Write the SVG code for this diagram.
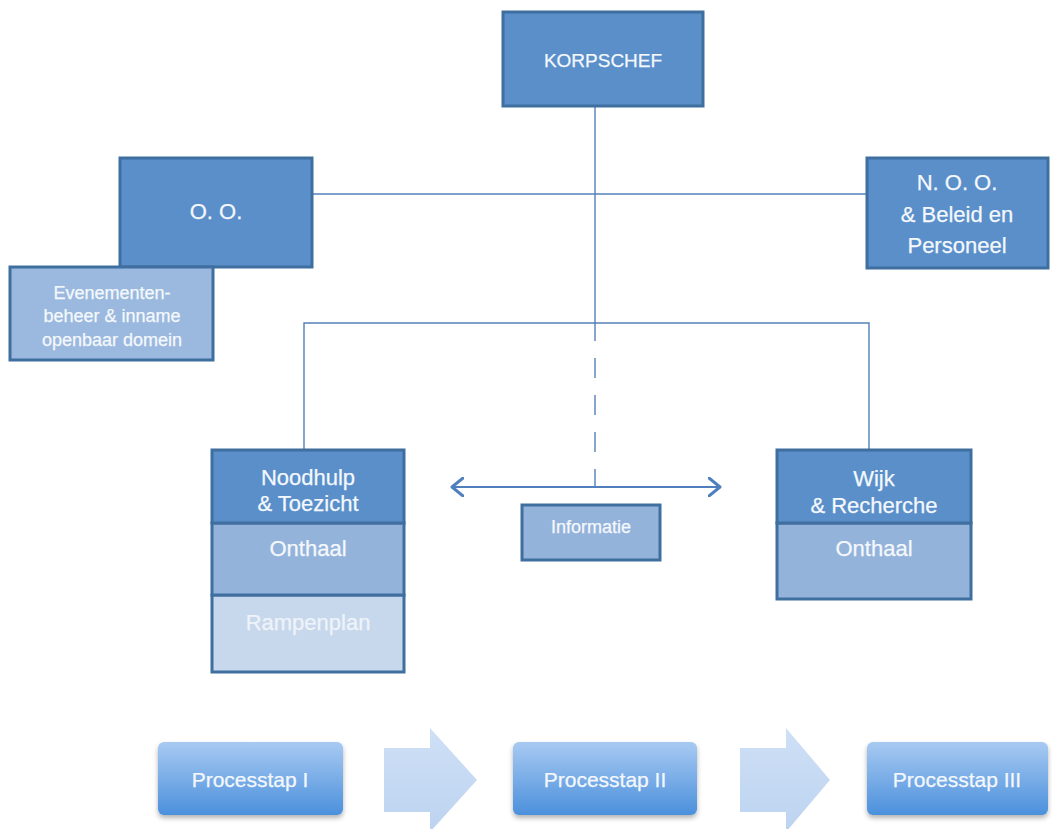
<svg xmlns="http://www.w3.org/2000/svg" width="1052" height="829" viewBox="0 0 1052 829">
<style>
text{font-family:"Liberation Sans",Arial,sans-serif;fill:#f4f8fc;text-anchor:middle;dominant-baseline:central;stroke:#f4f8fc;stroke-width:0.25}
.box{fill:#5a8fca;stroke:#3f6f9f;stroke-width:3}
.mid{fill:#94b3db;stroke:#3f6f9f;stroke-width:3}
.light{fill:#c8d8ec;stroke:#3f6f9f;stroke-width:3}
.conn{stroke:#5380b8;stroke-width:1.4;fill:none}
.step{fill:url(#stepGrad);filter:url(#sh)}
.arr{fill:url(#arrGrad)}
</style>
<defs>
<linearGradient id="stepGrad" x1="0" y1="0" x2="0" y2="1">
<stop offset="0" stop-color="#a8caf2"/>
<stop offset="1" stop-color="#4b90dc"/>
</linearGradient>
<linearGradient id="arrGrad" x1="0" y1="0" x2="0" y2="1">
<stop offset="0" stop-color="#cfe0f6"/>
<stop offset="1" stop-color="#bcd3f0"/>
</linearGradient>
<filter id="sh" x="-10%" y="-10%" width="120%" height="140%">
<feDropShadow dx="0" dy="3" stdDeviation="2.5" flood-color="#000" flood-opacity="0.3"/>
</filter>
<marker id="chev" viewBox="0 0 14 20" refX="12" refY="10" markerWidth="14" markerHeight="20" markerUnits="userSpaceOnUse" orient="auto-start-reverse">
<path d="M1,1 L12,10 L1,19" fill="none" stroke="#4f80bd" stroke-width="3" stroke-linecap="round" stroke-linejoin="round"/>
</marker>
</defs>

<g id="connectors">
<line class="conn" x1="595" y1="106" x2="595" y2="341"/>
<line class="conn" x1="595" y1="358" x2="595" y2="487" stroke-dasharray="20 17"/>
<line class="conn" x1="313" y1="194" x2="867" y2="194"/>
<polyline class="conn" points="304,452 304,323 869,323 869,451"/>
<line x1="452" y1="487" x2="720" y2="487" stroke="#4f80bd" stroke-width="2.2" marker-start="url(#chev)" marker-end="url(#chev)"/>
</g>

<g id="korpschef">
<rect class="box" x="503" y="12" width="200" height="94"/>
<text x="603" y="60" font-size="19">KORPSCHEF</text>
</g>

<g id="oo">
<rect class="box" x="120" y="158" width="192" height="109"/>
<text x="216" y="211" font-size="22">O. O.</text>
</g>

<g id="evenementen">
<rect class="box" x="10" y="267" width="203" height="93" style="fill:#9bb9df"/>
<text x="112" y="293" font-size="18">Evenementen-</text>
<text x="112" y="316" font-size="18">beheer &amp; inname</text>
<text x="112" y="340" font-size="18">openbaar domein</text>
</g>

<g id="noo">
<rect class="box" x="867" y="158" width="181" height="110"/>
<text x="957" y="182" font-size="22">N. O. O.</text>
<text x="957" y="214" font-size="22">&amp; Beleid en</text>
<text x="957" y="245" font-size="22">Personeel</text>
</g>

<g id="noodhulp">
<rect class="light" x="212" y="595" width="192" height="77"/>
<rect class="mid" x="212" y="523" width="192" height="72"/>
<rect class="box" x="212" y="450" width="192" height="73"/>
<text x="308" y="477" font-size="22">Noodhulp</text>
<text x="308" y="503" font-size="22">&amp; Toezicht</text>
<text x="308" y="548" font-size="22">Onthaal</text>
<text x="308" y="622" font-size="22" style="fill:#eef3fa;stroke:#eef3fa">Rampenplan</text>
</g>

<g id="wijk">
<rect class="mid" x="777" y="523" width="194" height="76"/>
<rect class="box" x="777" y="450" width="194" height="73"/>
<text x="874" y="478" font-size="22">Wijk</text>
<text x="874" y="505" font-size="22">&amp; Recherche</text>
<text x="874" y="548" font-size="22">Onthaal</text>
</g>

<g id="informatie">
<rect class="mid" x="522" y="505" width="138" height="55"/>
<text x="591" y="527" font-size="18">Informatie</text>
</g>

<g id="processtap1">
<rect class="step" x="158" y="742" width="185" height="73" rx="6"/>
<text x="250" y="779" font-size="21">Processtap I</text>
</g>
<g id="arrow1">
<polygon class="arr" points="384,748 430,748 430,728 477,780 430,832 430,812 384,812"/>
</g>
<g id="processtap2">
<rect class="step" x="513" y="742" width="184" height="73" rx="6"/>
<text x="605" y="779" font-size="21">Processtap II</text>
</g>
<g id="arrow2">
<polygon class="arr" points="740,748 786,748 786,728 830,780 786,832 786,812 740,812"/>
</g>
<g id="processtap3">
<rect class="step" x="867" y="742" width="181" height="73" rx="6"/>
<text x="957" y="779" font-size="21">Processtap III</text>
</g>
</svg>
